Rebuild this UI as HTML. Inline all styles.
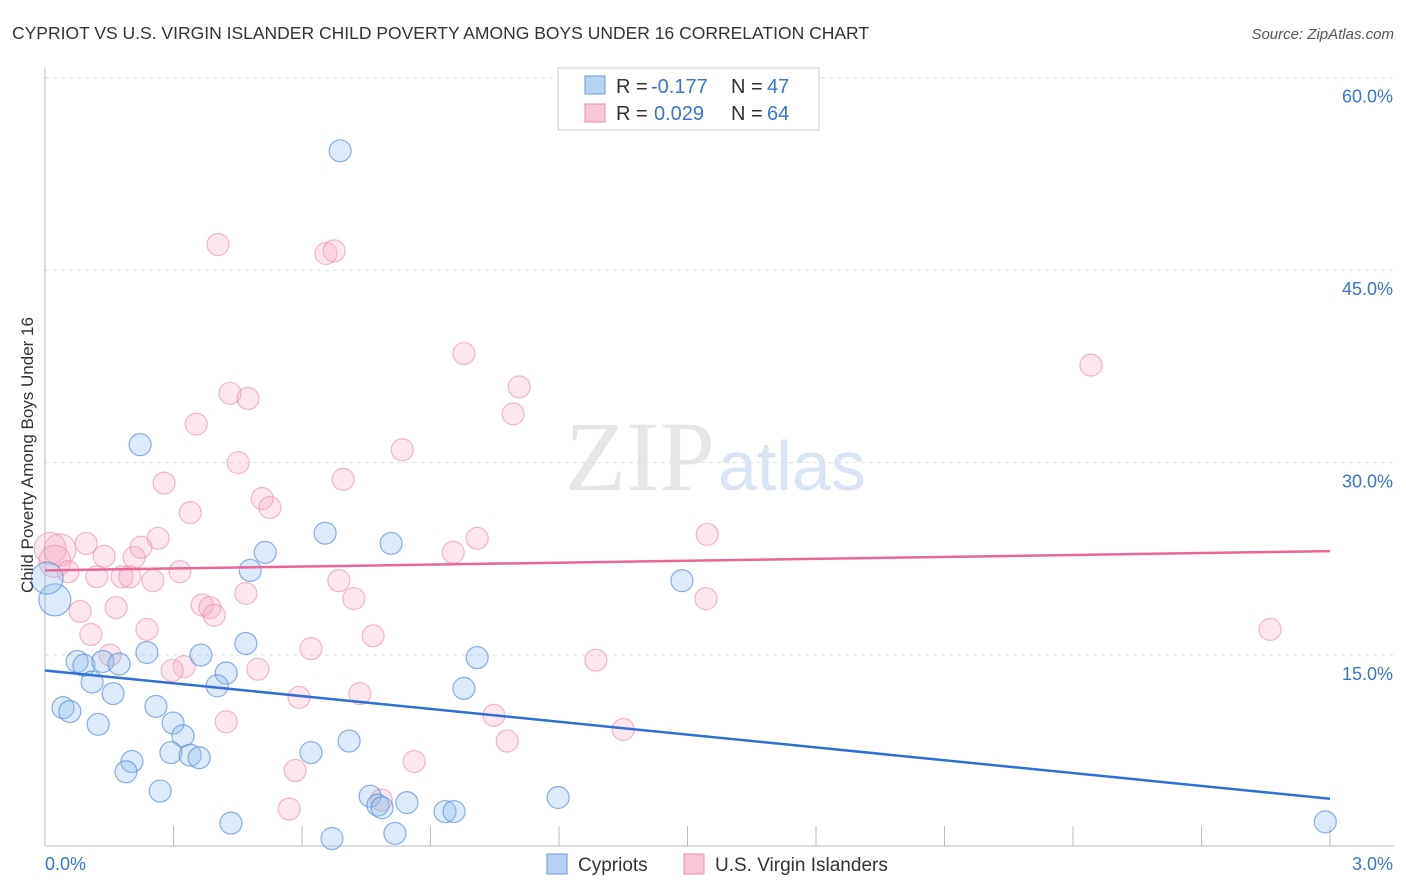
<!DOCTYPE html>
<html><head><meta charset="utf-8">
<style>
body{margin:0;background:#fff;font-family:"Liberation Sans",sans-serif;}
#wrap{position:relative;width:1406px;height:892px;overflow:hidden;}
</style></head>
<body>
<div id="wrap">
<svg id="chart" width="1406" height="892" xmlns="http://www.w3.org/2000/svg">
<text x="12" y="39" font-size="17.5" fill="#333">CYPRIOT VS U.S. VIRGIN ISLANDER CHILD POVERTY AMONG BOYS UNDER 16 CORRELATION CHART</text>
<text x="1394" y="39" font-size="15" fill="#555" font-style="italic" text-anchor="end">Source: ZipAtlas.com</text>
<text x="715" y="490" font-size="100" fill="#e6e6e6" text-anchor="end" font-family="Liberation Serif,serif">ZIP</text>
<text x="718" y="490" font-size="70" fill="#d9e5f5">atlas</text>
<g id="grid"></g>
<g id="axes"></g>
<g id="points"></g>
<g id="lines"></g>
<text transform="translate(33,455) rotate(-90)" font-size="17" fill="#333" text-anchor="middle">Child Poverty Among Boys Under 16</text>
<g>
<rect x="558" y="68" width="261" height="62" fill="#fff" stroke="#ccc"/>
<rect x="585" y="76" width="20" height="18" fill="#b8d2f3" stroke="#6a9bdc"/>
<rect x="585" y="104" width="20" height="18" fill="#f8c6d5" stroke="#e890ac"/>
<text y="93" font-size="20" fill="#333"><tspan x="616">R =</tspan><tspan x="651" fill="#3a74d0">-0.177</tspan><tspan x="731">N =</tspan><tspan x="767" fill="#3a74d0">47</tspan></text>
<text y="120" font-size="20" fill="#333"><tspan x="616">R =</tspan><tspan x="654" fill="#3a74d0">0.029</tspan><tspan x="731">N =</tspan><tspan x="767" fill="#3a74d0">64</tspan></text>
</g>
<g>
<rect x="547" y="854" width="20" height="20" fill="#b8d2f3" stroke="#6a9bdc"/>
<text x="578" y="871" font-size="19" fill="#333">Cypriots</text>
<rect x="684" y="854" width="20" height="20" fill="#f8c6d5" stroke="#e890ac"/>
<text x="715" y="871" font-size="19" fill="#333">U.S. Virgin Islanders</text>
</g>
</svg>
</div>
<script>
const yTicks=[15,30,45,60];
const yTickLabels=["15.0%","30.0%","45.0%","60.0%"];
const xTickLabels=["0.0%","3.0%"];
const blueX=[0.689,0.222,0.654,0.808,0.514,0.479,1.487,0.023,0.005,0.469,1.009,0.238,0.364,0.075,0.091,0.135,0.173,0.423,0.110,0.402,0.978,0.159,0.042,0.058,0.259,0.299,0.124,0.322,0.710,0.294,0.621,0.339,0.360,0.203,0.189,0.269,0.759,1.198,0.845,0.777,0.787,0.934,0.955,0.434,2.989,0.670,0.817];
const blueY=[54.3,31.4,24.5,23.7,23.0,21.6,20.8,19.3,21.0,15.9,14.8,15.2,15.0,14.5,14.2,14.5,14.3,13.6,12.9,12.6,12.4,12.0,10.9,10.6,11.0,9.7,9.6,8.7,8.3,7.4,7.4,7.2,7.0,6.7,5.9,4.4,4.0,3.9,3.5,3.3,3.1,2.8,2.8,1.9,2.0,0.7,1.1];
const blueBig=[7,8];
const pinkX=[0.404,0.656,0.675,0.978,2.442,1.107,0.432,0.474,1.093,0.353,0.834,0.451,0.696,0.278,0.507,0.339,0.525,0.264,0.096,0.035,0.012,1.546,1.009,0.224,0.138,0.208,0.953,0.023,0.054,0.315,0.121,0.180,0.198,0.252,0.686,0.469,0.721,1.543,0.082,0.166,0.367,0.385,0.395,0.238,0.107,0.766,2.860,0.621,0.152,1.286,0.325,0.497,0.297,0.593,0.735,0.423,1.048,1.350,1.079,0.862,0.584,0.570,0.785];
const pinkY=[47.0,46.3,46.5,38.5,37.6,35.9,35.4,35.0,33.8,33.0,31.0,30.0,28.7,28.4,27.2,26.1,26.5,24.1,23.7,23.2,23.3,24.4,24.1,23.4,22.7,22.6,23.0,22.3,21.5,21.5,21.1,21.1,21.1,20.8,20.8,19.8,19.4,19.4,18.4,18.7,18.9,18.7,18.1,17.0,16.6,16.5,17.0,15.5,15.0,14.6,14.1,13.9,13.8,11.7,12.0,9.8,10.3,9.2,8.3,6.7,6.0,3.0,3.7];
const pinkBig=[19,20,27];
const blueTrend=[13.8,3.8];
const pinkTrend=[21.6,23.1];
const xDomain=[0,3];

const NS="http://www.w3.org/2000/svg";
const X0=45,X1=1330,Y0=847.5,PPY=12.83;
function sx(v){return X0+(v-xDomain[0])/(xDomain[1]-xDomain[0])*(X1-X0);}
function sy(v){return Y0-v*PPY;}
function mk(t,a,p){const e=document.createElementNS(NS,t);for(const k in a)e.setAttribute(k,a[k]);p.appendChild(e);return e;}
const grid=document.getElementById('grid'),axes=document.getElementById('axes'),pts=document.getElementById('points'),lines=document.getElementById('lines');
yTicks.forEach((t,i)=>{
  const l=mk('line',{x1:X0,x2:1394,y1:sy(t),y2:sy(t),stroke:'#ddd','stroke-dasharray':'4,4'},grid);
  
  
  const tx=mk('text',{x:1393,y:sy(t)+25,'font-size':18,fill:'#3a74d0','text-anchor':'end'},axes);
  tx.textContent=yTickLabels[i];
  
  
});
const ya=mk('line',{x1:X0,x2:X0,y1:68,y2:846,stroke:'#bbb'},axes);


const xa=mk('line',{x1:X0,x2:1394,y1:846,y2:846,stroke:'#bbb'},axes);


for(let i=1;i<=10;i++){
  const v=xDomain[0]+i*(xDomain[1]-xDomain[0])/10;
  const tk=mk('line',{x1:sx(v),x2:sx(v),y1:826,y2:846,stroke:'#bbb'},axes);
  
  
}
[[xDomain[0],'start',45],[xDomain[1],'end',1393]].forEach((d,i)=>{
  const t=mk('text',{x:d[2],y:870,'font-size':18,fill:'#3a74d0','text-anchor':d[1]},axes);
  t.textContent=xTickLabels[i];
  
  
});
function drawSeries(xs,ys,big,fill,stroke,name){
  xs.forEach((x,i)=>{
    const r=big.includes(i)?16:11;
    const c=mk('circle',{cx:sx(x),cy:sy(ys[i]),r:r,fill:fill,stroke:stroke,'stroke-width':1.2},pts);
    
    
  });
}
drawSeries(pinkX,pinkY,pinkBig,'rgba(246,168,194,0.28)','rgba(232,140,172,0.6)','usvi');
drawSeries(blueX,blueY,blueBig,'rgba(150,190,238,0.33)','rgba(80,135,215,0.65)','cypriot');
const bl=mk('line',{x1:sx(xDomain[0]),y1:sy(blueTrend[0]),x2:sx(xDomain[1]),y2:sy(blueTrend[1]),stroke:'#2f6fd6','stroke-width':2.5},lines);


const pl=mk('line',{x1:sx(xDomain[0]),y1:sy(pinkTrend[0]),x2:sx(xDomain[1]),y2:sy(pinkTrend[1]),stroke:'#e8679a','stroke-width':2.5},lines);


</script>
</body></html>
